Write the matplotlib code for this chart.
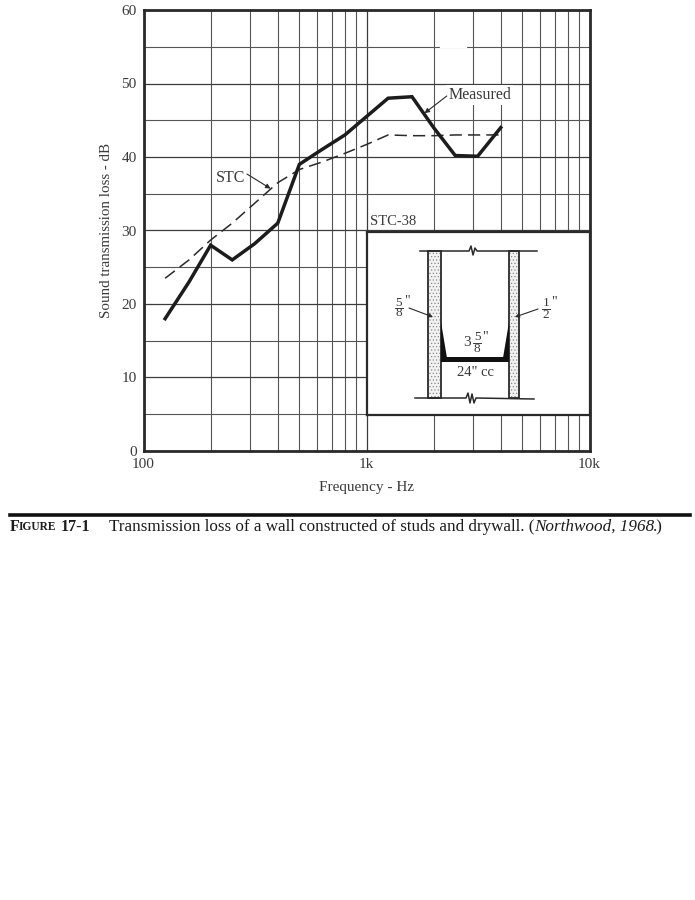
import matplotlib
matplotlib.use("Agg")
import matplotlib.pyplot as plt
from matplotlib.patches import Rectangle, Polygon
from matplotlib.ticker import FixedLocator, FixedFormatter, NullFormatter

plt.rcParams['font.family'] = ['Liberation Serif', 'DejaVu Serif']
plt.rcParams['hatch.linewidth'] = 0.5

freq = [125, 160, 200, 250, 315, 400, 500, 630, 800, 1000, 1250, 1600, 2000, 2500, 3150, 4000]
measured = [18, 23, 28, 26, 28.2, 31, 39, 41, 43, 45.5, 48, 48.2, 44, 40.2, 40.1, 44]
stc = [23.5, 26, 28.7, 31, 33.7, 36.5, 38.3, 39.3, 40.5, 41.7, 43, 42.9, 42.9, 43, 43, 43]
x_major = [100, 1000, 10000]
x_labels = ['100', '1k', '10k']
x_minor = [m * d for d in (100, 1000) for m in range(2, 10)]
y_major = [0, 10, 20, 30, 40, 50, 60]
y_minor = [5, 15, 25, 35, 45, 55]

W, H = 695, 900
INK = '#2a2a2a'
TXT = '#3a3a3a'
fig = plt.figure(figsize=(W / 100, H / 100), dpi=100, facecolor='white')

def box(l, t, r, b):
    return [l / W, 1 - b / H, (r - l) / W, (b - t) / H]

ax = fig.add_axes(box(143.5, 10, 589.5, 451))
ax.set_xscale('log')
ax.set_xlim(100, 10000)
ax.set_ylim(0, 60)
ax.xaxis.set_major_locator(FixedLocator(x_major))
ax.xaxis.set_major_formatter(FixedFormatter(x_labels))
ax.xaxis.set_minor_locator(FixedLocator(x_minor))
ax.xaxis.set_minor_formatter(NullFormatter())
ax.yaxis.set_major_locator(FixedLocator(y_major))
ax.yaxis.set_minor_locator(FixedLocator(y_minor))
ax.grid(which='major', axis='both', color='#3c3c3c', lw=0.9)
ax.grid(which='minor', axis='both', color='#555555', lw=0.8)
ax.set_axisbelow(True)
ax.tick_params(which='both', length=0, labelsize=11, labelcolor=TXT, pad=5)
for s in ax.spines.values():
    s.set_linewidth(2.0)
    s.set_color(INK)
ax.set_xlabel('Frequency - Hz', fontsize=11, color=TXT, labelpad=7)
ax.set_ylabel('Sound transmission loss - dB', fontsize=10.8, color=TXT, labelpad=6)

ax.plot(freq, stc, color=INK, lw=1.1, dashes=(8, 4), zorder=3)
ax.plot(freq, measured, color='#1c1c1c', lw=2.5, solid_joinstyle='miter', zorder=4)

ax.text(0.162, 0.619, 'STC', transform=ax.transAxes, fontsize=11.5, color=TXT,
        ha='left', va='center', bbox=dict(fc='white', ec='none', pad=1.5), zorder=5)
ax.annotate('', xy=(0.285, 0.595), xytext=(0.232, 0.628), xycoords='axes fraction',
            textcoords='axes fraction', zorder=5,
            arrowprops=dict(arrowstyle='-|>', lw=0.8, color=INK, mutation_scale=7, shrinkA=0, shrinkB=0))
ax.text(0.683, 0.807, 'Measured', transform=ax.transAxes, fontsize=11.5, color=TXT,
        ha='left', va='center', bbox=dict(fc='white', ec='none', pad=1.5), zorder=5)
ax.annotate('', xy=(0.630, 0.766), xytext=(0.680, 0.805), xycoords='axes fraction',
            textcoords='axes fraction', zorder=5,
            arrowprops=dict(arrowstyle='-|>', lw=0.8, color=INK, mutation_scale=7, shrinkA=0, shrinkB=0))
ax.text(0.508, 0.5215, 'STC-38', transform=ax.transAxes, fontsize=10.5, color=TXT,
        ha='left', va='center', zorder=5)

# Inset schematic, drawn in its own axes (units follow the reference's pixels)
ins = fig.add_axes(box(367, 232, 590, 415), facecolor='white', zorder=6)
ins.set_xlim(367, 590)
ins.set_ylim(415, 232)
ins.set_xticks([])
ins.set_yticks([])
for s in ins.spines.values():
    s.set_linewidth(1.6)
    s.set_color(INK)

for l, r in ((427.5, 441), (509, 519)):
    ins.add_patch(Rectangle((l, 251), r - l, 147, fc='#f2f2f2', ec='#8a8a8a', lw=0, hatch='.....'))
    ins.add_patch(Rectangle((l, 251), r - l, 147, fc='none', ec=INK, lw=1.3))
ins.add_patch(Rectangle((441, 357), 68, 5, fc='#111111', ec='none'))
ins.add_patch(Polygon([(441, 322), (447, 358), (441, 358)], fc='#111111', ec='none'))
ins.add_patch(Polygon([(509, 322), (503, 358), (509, 358)], fc='#111111', ec='none'))

ins.plot([420, 469, 471, 473, 475, 477, 537], [251, 251, 246, 255, 248, 251, 251], color=INK, lw=1.1)
ins.plot([415, 466, 468, 470, 472, 474, 476, 534],
         [398, 398, 393, 403, 394, 403, 398, 399], color=INK, lw=1.1)

def frac(x, y, num, den, fs=9.5):
    ins.text(x, y - 5.5, num, ha='center', va='center', fontsize=fs, color=TXT)
    ins.text(x, y + 5.5, den, ha='center', va='center', fontsize=fs, color=TXT)
    ins.plot([x - 4, x + 4], [y, y], color=TXT, lw=0.7)

frac(398.5, 308, '5', '8')
ins.text(404, 301, '"', fontsize=10, color=TXT, ha='left', va='center')
frac(546, 309, '1', '2')
ins.text(551, 302, '"', fontsize=10, color=TXT, ha='left', va='center')
ins.text(467, 343, '3', fontsize=11, color=TXT, ha='center', va='center')
frac(477, 343, '5', '8')
ins.text(482, 337, '"', fontsize=10, color=TXT, ha='left', va='center')
ins.text(475, 373, '24" cc', fontsize=10.5, color=TXT, ha='center', va='center')

ins.annotate('', xy=(433, 317), xytext=(409, 308),
             arrowprops=dict(arrowstyle='-|>', lw=0.8, color=INK, mutation_scale=6, shrinkA=0, shrinkB=0))
ins.annotate('', xy=(515, 317), xytext=(538, 309),
             arrowprops=dict(arrowstyle='-|>', lw=0.8, color=INK, mutation_scale=6, shrinkA=0, shrinkB=0))

# Small break in the 55 dB grid line, as printed in the reference
fig.add_artist(plt.Line2D([441 / W, 466 / W], [1 - 47 / H] * 2, color='white', lw=1.6))

# Caption rule and caption
fig.add_artist(plt.Line2D([10 / W, 690 / W], [1 - 514.5 / H] * 2, color='#111111', lw=2.6))
y = 1 - 527 / H
fig.text(10 / W, y, 'F', fontsize=11.5, fontweight='bold', color='#1c1c1c', va='center')
fig.text(19 / W, y, 'IGURE', fontsize=8.3, fontweight='bold', color='#1c1c1c', va='center')
fig.text(61 / W, y, '17-1', fontsize=11.5, fontweight='bold', color='#1c1c1c', va='center')
fig.text(109 / W, y, 'Transmission loss of a wall constructed of studs and drywall. (',
         fontsize=12.25, color='#1c1c1c', va='center')
fig.text(534 / W, y, 'Northwood, 1968', fontsize=12.3, style='italic', color='#1c1c1c', va='center')
fig.text(653 / W, y, '.)', fontsize=12.1, color='#1c1c1c', va='center')

fig.savefig('out.png', dpi=100, facecolor='white')
